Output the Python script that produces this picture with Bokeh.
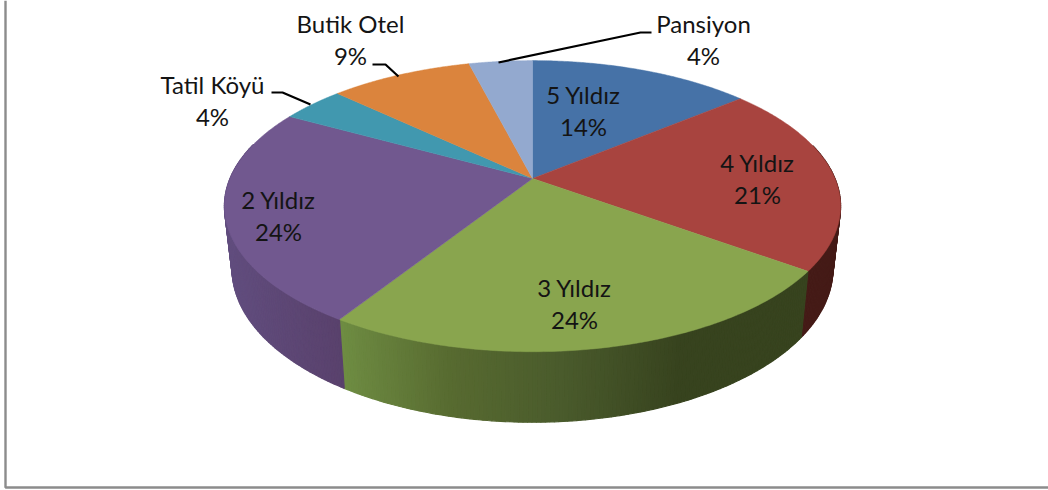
import numpy as np
from bokeh.plotting import figure
from bokeh.models import Range1d
from bokeh.core.properties import value
from bokeh.embed import file_html
from bokeh.resources import INLINE

# ---- data ----
categories = ["5 Yıldız", "4 Yıldız", "3 Yıldız", "2 Yıldız", "Tatil Köyü", "Butik Otel", "Pansiyon"]
shares = [14, 21, 24, 24, 4, 9, 4]

# ---- styles ----
top_colors = ["#4672A7", "#A8443F", "#89A54E", "#71588F", "#4198AF", "#DB843D", "#93A9CF"]
# side shading: (pixel x, colour) stops per slice
side_stops = {
    0: [(0, "#2a4060"), (1048, "#2a4060")],
    1: [(780, "#451b17"), (840, "#451b17")],
    2: [(340, "#6e8c42"), (450, "#576a30"), (560, "#4a5b2c"), (680, "#37431e"), (810, "#37431e")],
    3: [(225, "#614d7e"), (340, "#59416c")],
    4: [(0, "#2a5a68"), (1048, "#2a5a68")],
    5: [(0, "#8a5226"), (1048, "#8a5226")],
    6: [(0, "#5a6a85"), (1048, "#5a6a85")],
}
label_xy = [(583, 94), (757, 162), (574, 287), (278, 199), (212, 84), (350, 23), (703, 23)]
LINE_GAP = 31.5
leaders = [
    ([271, 282, 310], [92, 92, 104]),
    ([372, 385, 398], [64, 64, 76]),
    ([651, 640, 498], [32, 32, 62]),
]

# ---- perspective of the pie ----
K = 0.19
TOP = dict(cx=532.0, cy=178.0, bx=302.5, ay=140.3)
BOT = dict(cx=532.0, cy=239.0, bx=295.0, ay=148.0)


def project(theta, disc, r=1.0):
    X, Y = r * np.sin(theta), r * np.cos(theta)
    d = 1 + K * Y
    return disc["cx"] + disc["bx"] * X / d, disc["cy"] - disc["ay"] * Y / d


def hex_rgb(h):
    return np.array([int(h[i:i + 2], 16) for i in (1, 3, 5)], float)


def shade(i, x):
    stops = side_stops[i]
    xs = [s[0] for s in stops]
    cols = np.array([hex_rgb(s[1]) for s in stops])
    rgb = [np.interp(x, xs, cols[:, c]) for c in range(3)]
    return "#%02x%02x%02x" % tuple(int(round(v)) for v in rgb)


W, H = 1048, 490
p = figure(width=W, height=H, x_range=Range1d(0, W), y_range=Range1d(H, 0),
           output_backend="svg", toolbar_location=None, min_border=0,
           background_fill_color="white", border_fill_color="white", outline_line_color=None,
           margin=(0, 0, 0, 0))
p.axis.visible = False
p.grid.visible = False

# frame of the chart area
p.line([5, 5, W], [0, 487, 487], line_color="#8c8c8c", line_width=2.4)

edges = np.concatenate([[0], np.cumsum(shares)]) / np.sum(shares) * 2 * np.pi

# side wall as narrow strips
sx, sy, sc = [], [], []
for i in range(len(shares)):
    a0, a1 = edges[i], edges[i + 1]
    n = max(2, int((a1 - a0) / np.radians(0.7)))
    th = np.linspace(a0, a1, n + 1)
    for t0, t1 in zip(th[:-1], th[1:]):
        if np.cos((t0 + t1) / 2) > 0.25:
            continue
        x0, y0 = project(t0, TOP)
        x1, y1 = project(t1, TOP)
        x2, y2 = project(t1, BOT)
        x3, y3 = project(t0, BOT)
        sx.append([x0, x1, x2, x3])
        sy.append([y0, y1, y2, y3])
        sc.append(shade(i, (x0 + x1) / 2))
p.patches(sx, sy, fill_color=sc, line_color=sc, line_width=1.2)

# top faces
fx, fy = [], []
for i in range(len(shares)):
    th = np.linspace(edges[i], edges[i + 1], 120)
    x, y = project(th, TOP)
    fx.append([TOP["cx"]] + list(x))
    fy.append([TOP["cy"]] + list(y))
p.patches(fx, fy, fill_color=top_colors, line_color=top_colors, line_width=0.5)

# leaders
for lx, ly in leaders:
    p.line(lx, ly, line_color="black", line_width=2.2)

# labels
tx, ty, tt = [], [], []
for name, share, (x, y) in zip(categories, shares, label_xy):
    tx += [x, x]
    ty += [y, y + LINE_GAP]
    tt += [name, f"{share}%"]
p.text(tx, ty, text=tt, text_align="center", text_baseline="middle",
       text_font=value("Lato"), text_font_size="24px", text_color="#141414")

open("out.html", "w").write(file_html(p, INLINE))
